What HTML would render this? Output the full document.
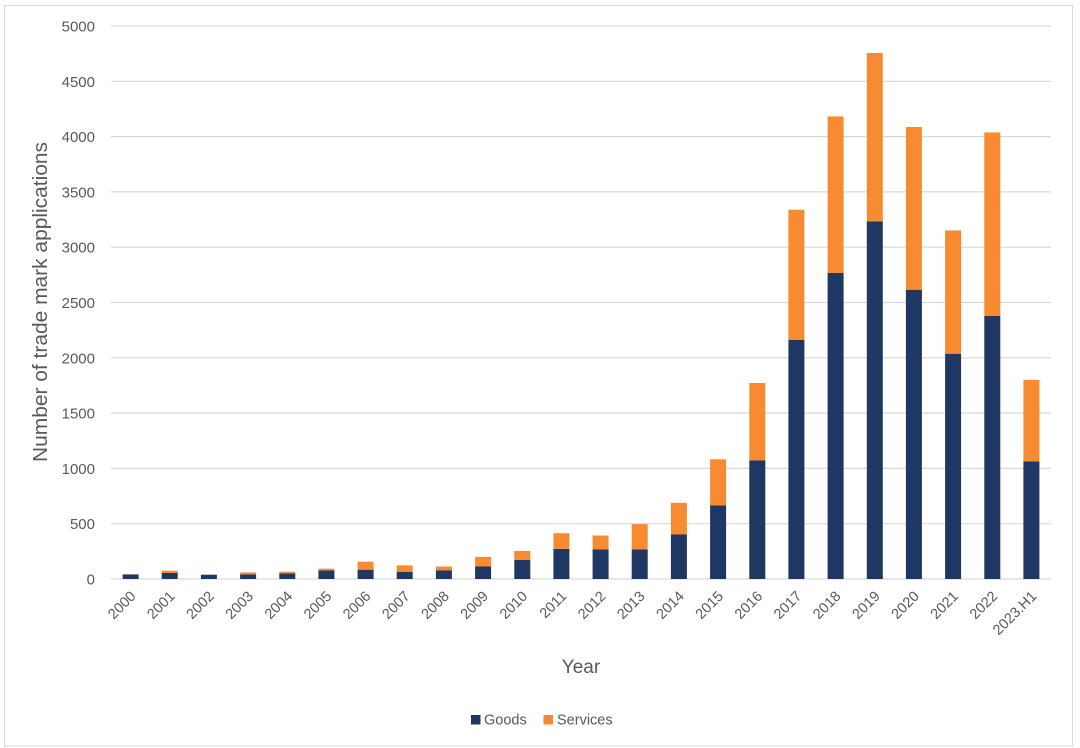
<!DOCTYPE html>
<html><head><meta charset="utf-8"><style>
html,body{margin:0;padding:0;background:#fff;}
svg{display:block;font-family:"Liberation Sans",sans-serif;}
</style></head><body>
<svg width="1080" height="748" viewBox="0 0 1080 748" xmlns="http://www.w3.org/2000/svg">
<rect x="0" y="0" width="1080" height="748" fill="#fff"/>
<rect x="4.5" y="5.5" width="1068" height="740.5" fill="none" stroke="#d9d9d9" stroke-width="1"/>
<g stroke="#d9d9d9" stroke-width="1.2">
<line x1="111" x2="1051" y1="579" y2="579"/>
<line x1="111" x2="1051" y1="523.7" y2="523.7"/>
<line x1="111" x2="1051" y1="468.4" y2="468.4"/>
<line x1="111" x2="1051" y1="413.1" y2="413.1"/>
<line x1="111" x2="1051" y1="357.8" y2="357.8"/>
<line x1="111" x2="1051" y1="302.5" y2="302.5"/>
<line x1="111" x2="1051" y1="247.2" y2="247.2"/>
<line x1="111" x2="1051" y1="191.9" y2="191.9"/>
<line x1="111" x2="1051" y1="136.6" y2="136.6"/>
<line x1="111" x2="1051" y1="81.3" y2="81.3"/>
<line x1="111" x2="1051" y1="26" y2="26"/>
</g>
<g fill="#595959" font-size="15" text-anchor="end">
<text x="95" y="584.5">0</text>
<text x="95" y="529.2">500</text>
<text x="95" y="473.9">1000</text>
<text x="95" y="418.6">1500</text>
<text x="95" y="363.3">2000</text>
<text x="95" y="308">2500</text>
<text x="95" y="252.7">3000</text>
<text x="95" y="197.4">3500</text>
<text x="95" y="142.1">4000</text>
<text x="95" y="86.8">4500</text>
<text x="95" y="31.5">5000</text>
</g>
<!-- goods -->
<g fill="#1f3763">
<rect x="122.6" y="574.4" width="16" height="4.6"/>
<rect x="161.7" y="573.0" width="16" height="6.0"/>
<rect x="200.9" y="574.7" width="16" height="4.3"/>
<rect x="240.1" y="574.4" width="16" height="4.6"/>
<rect x="279.3" y="573.4" width="16" height="5.6"/>
<rect x="318.4" y="570.4" width="16" height="8.6"/>
<rect x="357.6" y="569.7" width="16" height="9.3"/>
<rect x="396.7" y="572.0" width="16" height="7.0"/>
<rect x="435.9" y="570.5" width="16" height="8.5"/>
<rect x="475.1" y="566.5" width="16" height="12.5"/>
<rect x="514.3" y="559.9" width="16" height="19.1"/>
<rect x="553.4" y="548.9" width="16" height="30.1"/>
<rect x="592.6" y="549.5" width="16" height="29.5"/>
<rect x="631.7" y="549.5" width="16" height="29.5"/>
<rect x="670.9" y="534.5" width="16" height="44.5"/>
<rect x="710.1" y="505.5" width="16" height="73.5"/>
<rect x="749.3" y="460.5" width="16" height="118.5"/>
<rect x="788.4" y="339.8" width="16" height="239.2"/>
<rect x="827.6" y="273.0" width="16" height="306.0"/>
<rect x="866.8" y="221.4" width="16" height="357.6"/>
<rect x="905.9" y="289.7" width="16" height="289.3"/>
<rect x="945.1" y="353.7" width="16" height="225.3"/>
<rect x="984.3" y="315.8" width="16" height="263.2"/>
<rect x="1023.4" y="461.3" width="16" height="117.7"/>
</g>
<!-- services -->
<g fill="#f88a31">
<rect x="161.7" y="570.7" width="16" height="2.3"/>
<rect x="240.1" y="572.4" width="16" height="2.0"/>
<rect x="279.3" y="571.7" width="16" height="1.7"/>
<rect x="318.4" y="568.7" width="16" height="1.7"/>
<rect x="357.6" y="561.7" width="16" height="8.0"/>
<rect x="396.7" y="565.4" width="16" height="6.6"/>
<rect x="435.9" y="566.5" width="16" height="4.0"/>
<rect x="475.1" y="556.9" width="16" height="9.6"/>
<rect x="514.3" y="550.9" width="16" height="9.0"/>
<rect x="553.4" y="533.2" width="16" height="15.7"/>
<rect x="592.6" y="535.5" width="16" height="14.0"/>
<rect x="631.7" y="524.1" width="16" height="25.4"/>
<rect x="670.9" y="502.8" width="16" height="31.7"/>
<rect x="710.1" y="459.3" width="16" height="46.2"/>
<rect x="749.3" y="383.0" width="16" height="77.5"/>
<rect x="788.4" y="209.7" width="16" height="130.1"/>
<rect x="827.6" y="116.4" width="16" height="156.6"/>
<rect x="866.8" y="53.0" width="16" height="168.4"/>
<rect x="905.9" y="127.0" width="16" height="162.7"/>
<rect x="945.1" y="230.4" width="16" height="123.3"/>
<rect x="984.3" y="132.4" width="16" height="183.4"/>
<rect x="1023.4" y="379.9" width="16" height="81.4"/>
</g>
<!-- x labels -->
<g fill="#595959" font-size="14.5" text-anchor="end">
<text transform="translate(136.6,597) rotate(-45)">2000</text>
<text transform="translate(175.7,597) rotate(-45)">2001</text>
<text transform="translate(214.9,597) rotate(-45)">2002</text>
<text transform="translate(254.1,597) rotate(-45)">2003</text>
<text transform="translate(293.3,597) rotate(-45)">2004</text>
<text transform="translate(332.4,597) rotate(-45)">2005</text>
<text transform="translate(371.6,597) rotate(-45)">2006</text>
<text transform="translate(410.7,597) rotate(-45)">2007</text>
<text transform="translate(449.9,597) rotate(-45)">2008</text>
<text transform="translate(489.1,597) rotate(-45)">2009</text>
<text transform="translate(528.3,597) rotate(-45)">2010</text>
<text transform="translate(567.4,597) rotate(-45)">2011</text>
<text transform="translate(606.6,597) rotate(-45)">2012</text>
<text transform="translate(645.7,597) rotate(-45)">2013</text>
<text transform="translate(684.9,597) rotate(-45)">2014</text>
<text transform="translate(724.1,597) rotate(-45)">2015</text>
<text transform="translate(763.3,597) rotate(-45)">2016</text>
<text transform="translate(802.4,597) rotate(-45)">2017</text>
<text transform="translate(841.6,597) rotate(-45)">2018</text>
<text transform="translate(880.8,597) rotate(-45)">2019</text>
<text transform="translate(919.9,597) rotate(-45)">2020</text>
<text transform="translate(959.1,597) rotate(-45)">2021</text>
<text transform="translate(998.3,597) rotate(-45)">2022</text>
<text transform="translate(1037.4,597) rotate(-45)">2023.H1</text>
</g>
<text transform="translate(47,302) rotate(-90)" text-anchor="middle" font-size="20" textLength="320" lengthAdjust="spacingAndGlyphs" fill="#595959">Number of trade mark applications</text>
<text x="581" y="673" text-anchor="middle" font-size="19" fill="#595959">Year</text>
<rect x="471" y="715" width="9.5" height="9.5" fill="#1f3763"/>
<text x="484" y="724.5" font-size="14.5" fill="#595959">Goods</text>
<rect x="543.5" y="715" width="9.5" height="9.5" fill="#f88a31"/>
<text x="557" y="724.5" font-size="14.5" fill="#595959">Services</text>
</svg>
</body></html>
